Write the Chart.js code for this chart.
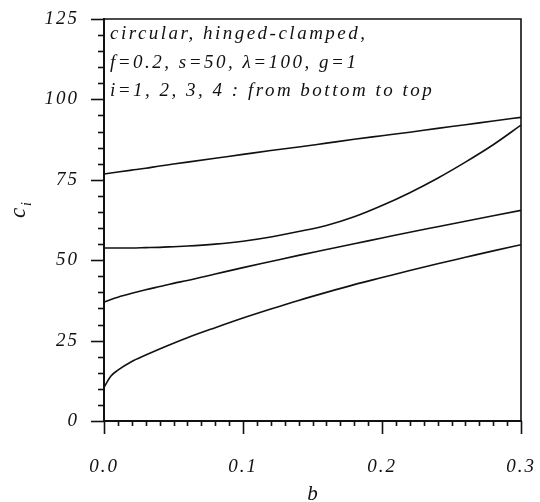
<!DOCTYPE html>
<html>
    <head>
        <title>c_i versus b</title>
        <script src="https://cdn.jsdelivr.net/npm/chart.js@4.4.1/dist/chart.umd.min.js"></script>
        <style>
            body { margin: 0; background: #fff; }
            #wrap { width: 540px; height: 502px; }
        </style>
    </head>
    <body>
        <div id="wrap"><canvas id="myChart"></canvas></div>

        <script>
            // values
            const bValues = [0, 0.005, 0.01, 0.02, 0.03, 0.04, 0.05, 0.06, 0.08, 0.1, 0.12, 0.14, 0.16, 0.18, 0.2, 0.22, 0.24, 0.26, 0.28, 0.3];
            const c1 = [10.5, 14.0, 15.8, 18.5, 20.5, 22.4, 24.2, 25.9, 29.0, 32.0, 34.8, 37.5, 40.0, 42.4, 44.6, 46.8, 48.9, 50.9, 52.9, 54.8];
            const c2 = [37.0, 37.8, 38.5, 39.7, 40.8, 41.8, 42.8, 43.7, 45.7, 47.7, 49.6, 51.5, 53.3, 55.1, 56.9, 58.7, 60.4, 62.1, 63.8, 65.5];
            const c3 = [53.8, 53.8, 53.8, 53.8, 53.9, 54.0, 54.2, 54.4, 55.0, 55.9, 57.2, 58.9, 60.8, 63.5, 67.0, 71.0, 75.5, 80.5, 85.9, 92.0];
            const c4 = [76.8, 77.1, 77.4, 78.0, 78.6, 79.3, 79.9, 80.5, 81.7, 82.9, 84.1, 85.2, 86.4, 87.6, 88.7, 89.8, 91.0, 92.1, 93.3, 94.4];

            const xTicks = [0, 0.1, 0.2, 0.3];
            const xTickLabels = ['0.0', '0.1', '0.2', '0.3'];
            const yTicks = [0, 25, 50, 75, 100, 125];
            const yTickLabels = ['0', '25', '50', '75', '100', '125'];

            const noteLines = [
                'circular, hinged-clamped,',
                'f=0.2, s=50, \u03bb=100, g=1',
                'i=1, 2, 3, 4 : from bottom to top'
            ];

            const ink = '#111';
            const serif = '"Liberation Serif", "DejaVu Serif", serif';

            function toPoints(ys) {
                return bValues.map((b, ix) => ({x: b, y: ys[ix]}));
            }

            function curve(ys) {
                return {
                    data: toPoints(ys),
                    borderColor: ink,
                    borderWidth: 1.6,
                    pointRadius: 0,
                    fill: false,
                    cubicInterpolationMode: 'monotone'
                };
            }

            // chart.js pads for the labels (tick padding included), we want a fixed plot box
            function noPad(scale) {
                scale.paddingLeft = 0;
                scale.paddingRight = 0;
                scale.paddingTop = 0;
                scale.paddingBottom = 0;
            }

            // ticks, frame, note and axis titles
            const decor = {
                id: 'decor',
                beforeDraw(chart) {
                    chart.ctx.letterSpacing = '2px';
                },
                afterDraw(chart) {
                    const ctx = chart.ctx;
                    const a = chart.chartArea;
                    const xs = chart.scales.x;
                    const ys = chart.scales.y;
                    ctx.save();
                    ctx.strokeStyle = ink;
                    ctx.fillStyle = ink;

                    // frame
                    ctx.lineWidth = 1.6;
                    ctx.beginPath();
                    ctx.moveTo(a.left, a.top);
                    ctx.lineTo(a.right, a.top);
                    ctx.lineTo(a.right, a.bottom);
                    ctx.stroke();

                    // y ticks, every 5, long ones every 25
                    for (let v = 0; v <= 125; v += 5) {
                        const py = Math.round(ys.getPixelForValue(v)) + 0.5;
                        const len = (v % 25 === 0) ? 13 : 6;
                        ctx.beginPath();
                        ctx.moveTo(a.left - len, py);
                        ctx.lineTo(a.left, py);
                        ctx.stroke();
                    }
                    // x ticks, every 0.01, long ones every 0.1
                    for (let k = 0; k <= 30; k++) {
                        const px = Math.round(xs.getPixelForValue(k / 100)) + 0.5;
                        const len = (k % 10 === 0) ? 13 : 5;
                        ctx.beginPath();
                        ctx.moveTo(px, a.bottom);
                        ctx.lineTo(px, a.bottom + len);
                        ctx.stroke();
                    }

                    // note in the upper left
                    ctx.font = 'italic 19px ' + serif;
                    ctx.letterSpacing = '2.5px';
                    ctx.textAlign = 'left';
                    ctx.textBaseline = 'alphabetic';
                    noteLines.forEach((line, ix) => {
                        ctx.fillText(line, a.left + 6, a.top + 20 + ix * 28.5);
                    });

                    // x title
                    ctx.letterSpacing = '0px';
                    ctx.font = 'italic 21px ' + serif;
                    ctx.textAlign = 'center';
                    ctx.fillText('b', (a.left + a.right) / 2, 500);

                    // y title, c with subscript i
                    ctx.translate(25, 210);
                    ctx.rotate(-Math.PI / 2);
                    ctx.textAlign = 'left';
                    ctx.font = 'italic 23px ' + serif;
                    ctx.fillText('c', -8, 0);
                    ctx.font = 'italic 14px ' + serif;
                    ctx.fillText('i', 4, 6);
                    ctx.restore();
                }
            };

            const ctx = document.getElementById('myChart');
            const myChart = new Chart(ctx, {
                type: 'line',
                data: {
                    datasets: [curve(c1), curve(c2), curve(c3), curve(c4)]
                },
                options: {
                    responsive: true,
                    maintainAspectRatio: false,
                    animation: false,
                    events: [],
                    layout: {
                        padding: {left: 0, right: 19, top: 19, bottom: 0}
                    },
                    plugins: {
                        legend: {display: false},
                        tooltip: {enabled: false}
                    },
                    scales: {
                        x: {
                            type: 'linear',
                            min: 0,
                            max: 0.3,
                            afterBuildTicks: (scale) => {
                                scale.ticks = xTicks.map(v => ({value: v}));
                            },
                            afterFit: (scale) => {
                                scale.height = 81;
                                noPad(scale);
                            },
                            ticks: {
                                color: ink,
                                padding: 35,
                                maxRotation: 0,
                                autoSkip: false,
                                font: {family: serif, size: 19, style: 'italic'},
                                callback: (v, ix) => xTickLabels[ix]
                            },
                            grid: {display: false, drawTicks: false},
                            border: {display: true, color: ink, width: 2}
                        },
                        y: {
                            type: 'linear',
                            min: 0,
                            max: 125,
                            afterBuildTicks: (scale) => {
                                scale.ticks = yTicks.map(v => ({value: v}));
                            },
                            afterFit: (scale) => {
                                scale.width = 104;
                                noPad(scale);
                            },
                            ticks: {
                                color: ink,
                                padding: 25,
                                autoSkip: false,
                                font: {family: serif, size: 19, style: 'italic'},
                                callback: (v, ix) => yTickLabels[ix]
                            },
                            grid: {display: false, drawTicks: false},
                            border: {display: true, color: ink, width: 2}
                        }
                    }
                },
                plugins: [decor]
            });
        </script>
    </body>
</html>
